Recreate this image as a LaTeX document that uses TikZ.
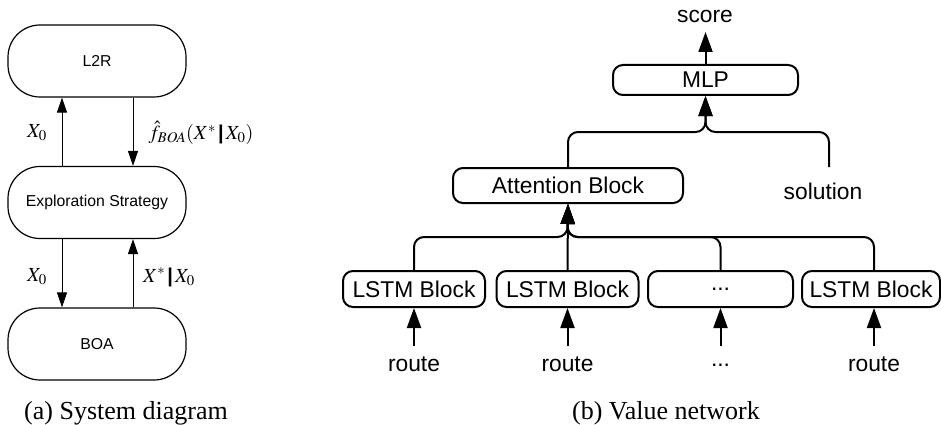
\documentclass[tikz,border=0pt]{standalone}
\usepackage{mathptmx}
\usepackage{fontspec}
\setmainfont{Liberation Serif}
\setsansfont{Liberation Sans}
\usetikzlibrary{arrows.meta}
\begin{document}
\begin{tikzpicture}[x=1pt,y=-1pt,
  lbox/.style={draw, line width=1.2pt, rounded corners=32pt, minimum width=178pt, minimum height=72pt, inner sep=0pt,
    font=\sffamily\fontsize{15.8}{18}\selectfont},
  rbox/.style={draw, line width=2pt, rounded corners=10pt, minimum height=36pt, inner sep=0pt,
    font=\sffamily\fontsize{22.8}{26}\selectfont},
  rtext/.style={inner sep=0pt, font=\sffamily\fontsize{22.8}{26}\selectfont},
  mlabel/.style={inner sep=0pt, font=\fontsize{20}{22}\selectfont},
  larrow/.style={line width=1pt, -{Triangle[width=10pt,length=15pt]}},
  rarrow/.style={line width=2pt, -{Triangle[width=14pt,length=20pt]}, rounded corners=10pt},
  caption/.style={inner sep=0pt, anchor=base, font=\fontsize{26}{30}\selectfont}
]
\useasboundingbox (0,0) rectangle (941,425);

% ---------- (a) System diagram ----------
\node[lbox] (l2r)  at (97,61)    {L2R};
\node[lbox] (expl) at (97,202.5) {Exploration Strategy};
\node[lbox] (boa)  at (97,344)   {BOA};

\draw[larrow] ([xshift=-35pt]expl.north) -- ([xshift=-35pt]l2r.south);
\draw[larrow] ([xshift=36pt]l2r.south) -- ([xshift=36pt]expl.north);
\draw[larrow] ([xshift=-35pt]expl.south) -- ([xshift=-35pt]boa.north);
\draw[larrow] ([xshift=36pt]boa.north) -- ([xshift=36pt]expl.south);

\node[mlabel] (la1) at (37,133) {$X_0$};
\node[mlabel] (la2) at (201,133) {$\hat{f}_{\mathit{BOA}}(X^{*}\,\textsf{\bfseries |}\,X_0)$};
\node[mlabel] (la3) at (37,277) {$X_0$};
\node[mlabel] (la4) at (169,277) {$X^{*}\,\textsf{\bfseries |}\,X_0$};

\node[caption] (capa) at (126,419) {(a) System diagram};

% ---------- (b) Value network ----------
\node[rtext] (score) at (705,16) {score};
\coordinate (scoretip) at (705.5,32);
\node[rbox, minimum width=185pt, minimum height=30pt] (mlp) at (705.5,80) {MLP};
\node[rbox, minimum width=230pt, minimum height=35pt] (att) at (568,185.5) {Attention Block};
\node[rtext] (sol) at (823,191) {solution};
\coordinate (soltop) at (829,167);
\coordinate (m1) at (705.5,132);
\coordinate (m2) at (567.5,237);

\draw[rarrow] (mlp.north) -- (scoretip);
\draw[rarrow] (att.north) |- (m1) -- (mlp.south);
\draw[rarrow] (soltop) |- (m1) -- (mlp.south);

\node[rbox, minimum width=142pt] (l1) at (414,289) {LSTM Block};
\node[rbox, minimum width=142pt] (l2) at (567.5,289) {LSTM Block};
\node[rbox, minimum width=145pt] (l3) at (720.5,289) {...};
\node[rbox, minimum width=138pt] (l4) at (871,289) {LSTM Block};

\draw[rarrow] (l1.north) |- (m2) -- (att.south);
\draw[rarrow] (l2.north) -- (att.south);
\draw[rarrow] (l3.north) |- (m2) -- (att.south);
\draw[rarrow] ([xshift=3pt]l4.north) |- (m2) -- (att.south);

\node[rtext, anchor=base] (r1) at (414,371) {route};
\node[rtext, anchor=base] (r2) at (567.5,371) {route};
\node[rtext, anchor=base] (r3) at (720.5,366) {...};
\node[rtext, anchor=base] (r4) at (874,371) {route};

\draw[rarrow] ([yshift=25pt]r1.base) -- (l1.south);
\draw[rarrow] ([yshift=25pt]r2.base) -- (l2.south);
\draw[rarrow] ([yshift=20pt]r3.base) -- (l3.south);
\draw[rarrow] ([yshift=25pt]r4.base) -- ([xshift=3pt]l4.south);

\node[caption] (capb) at (666,419) {(b) Value network};
\end{tikzpicture}
\end{document}
